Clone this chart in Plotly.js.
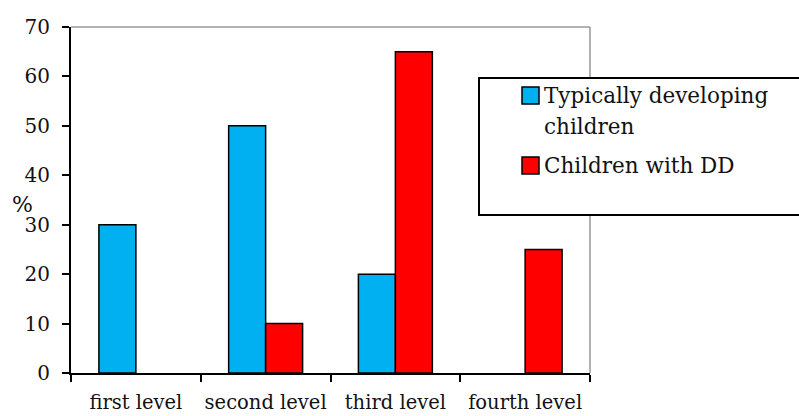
<!DOCTYPE html>
<html>
<head>
<meta charset="utf-8">
<script src="https://cdn.plot.ly/plotly-3.0.1.min.js"></script>
<style>html,body{margin:0;padding:0;background:#fff;}#chart{width:799px;height:416px;}</style>
</head>
<body>
<div id="chart"></div>
<script>
const categories = ["first level", "second level", "third level", "fourth level"];
const typicalValues = [30, 50, 20, null];
const ddValues = [null, 10, 65, 25];
const seriesNames = ["Typically developing", "children", "Children with DD"];
const seriesColors = ["#00B0F0", "#FF0000"];
const yTicks = [0, 10, 20, 30, 40, 50, 60, 70];

const serif = "DejaVu Serif, Liberation Serif, serif";
const W = 799, H = 416, L = 71, R = 209, T = 27, B = 43;
const pw = W - L - R, ph = H - T - B;
const px = v => (v - L) / pw;
const py = v => (H - B - v) / ph;

const traces = [
  {type: "bar", name: seriesNames[0], x: categories, y: typicalValues,
   marker: {color: seriesColors[0], line: {color: "#000", width: 1.5}}},
  {type: "bar", name: seriesNames[2], x: categories, y: ddValues,
   marker: {color: seriesColors[1], line: {color: "#000", width: 1.5}}}
];
const layout = {
  width: W, height: H,
  margin: {l: L, r: R, t: T, b: B, pad: 0},
  paper_bgcolor: "#fff", plot_bgcolor: "#fff",
  barmode: "group", bargap: 0.43, bargroupgap: 0,
  font: {family: serif, size: 20, color: "#111"},
  showlegend: false,
  xaxis: {type: "category", showgrid: false, showline: true, linecolor: "#000", linewidth: 2,
          ticks: "outside", tickson: "boundaries", ticklen: 7, tickwidth: 2, tickcolor: "#000",
          tickangle: 0, ticklabelstandoff: 11, automargin: false,
          tickfont: {family: serif, size: 19.5, color: "#111"}, fixedrange: true},
  yaxis: {range: [0, 70], tickvals: yTicks, showgrid: false, zeroline: false,
          showline: true, linecolor: "#000", linewidth: 2,
          ticks: "outside", ticklen: 7, tickwidth: 2, tickcolor: "#000",
          ticklabelstandoff: 8, automargin: false,
          tickfont: {family: serif, size: 20, color: "#111"}, fixedrange: true},
  shapes: [
    {type: "line", xref: "paper", yref: "paper", x0: 0, x1: 1, y0: 1, y1: 1,
     line: {color: "#999", width: 1.5}, layer: "below"},
    {type: "line", xref: "paper", yref: "paper", x0: 1, x1: 1, y0: 0, y1: 1,
     line: {color: "#999", width: 1.5}, layer: "below"},
    {type: "rect", xref: "paper", yref: "paper", x0: px(479), x1: px(810), y0: py(215), y1: py(78),
     fillcolor: "#fff", line: {color: "#000", width: 2}, layer: "above"},
    {type: "rect", xref: "paper", yref: "paper", x0: px(522), x1: px(539), y0: py(104), y1: py(87),
     fillcolor: seriesColors[0], line: {color: "#000", width: 1.5}, layer: "above"},
    {type: "rect", xref: "paper", yref: "paper", x0: px(522), x1: px(539), y0: py(174), y1: py(157),
     fillcolor: seriesColors[1], line: {color: "#000", width: 1.5}, layer: "above"}
  ],
  annotations: [
    {text: "%", xref: "paper", yref: "paper", x: px(22), y: py(204), showarrow: false,
     xanchor: "center", yanchor: "middle", font: {family: serif, size: 22, color: "#111"}},
    {text: seriesNames[0], xref: "paper", yref: "paper", x: px(542), y: py(95), showarrow: false,
     xanchor: "left", yanchor: "middle", font: {family: serif, size: 21.5, color: "#111"}},
    {text: seriesNames[1], xref: "paper", yref: "paper", x: px(542), y: py(126), showarrow: false,
     xanchor: "left", yanchor: "middle", font: {family: serif, size: 21.5, color: "#111"}},
    {text: seriesNames[2], xref: "paper", yref: "paper", x: px(542), y: py(165), showarrow: false,
     xanchor: "left", yanchor: "middle", font: {family: serif, size: 21.5, color: "#111"}}
  ]
};
Plotly.newPlot("chart", traces, layout, {staticPlot: true, displayModeBar: false});
</script>
</body>
</html>
